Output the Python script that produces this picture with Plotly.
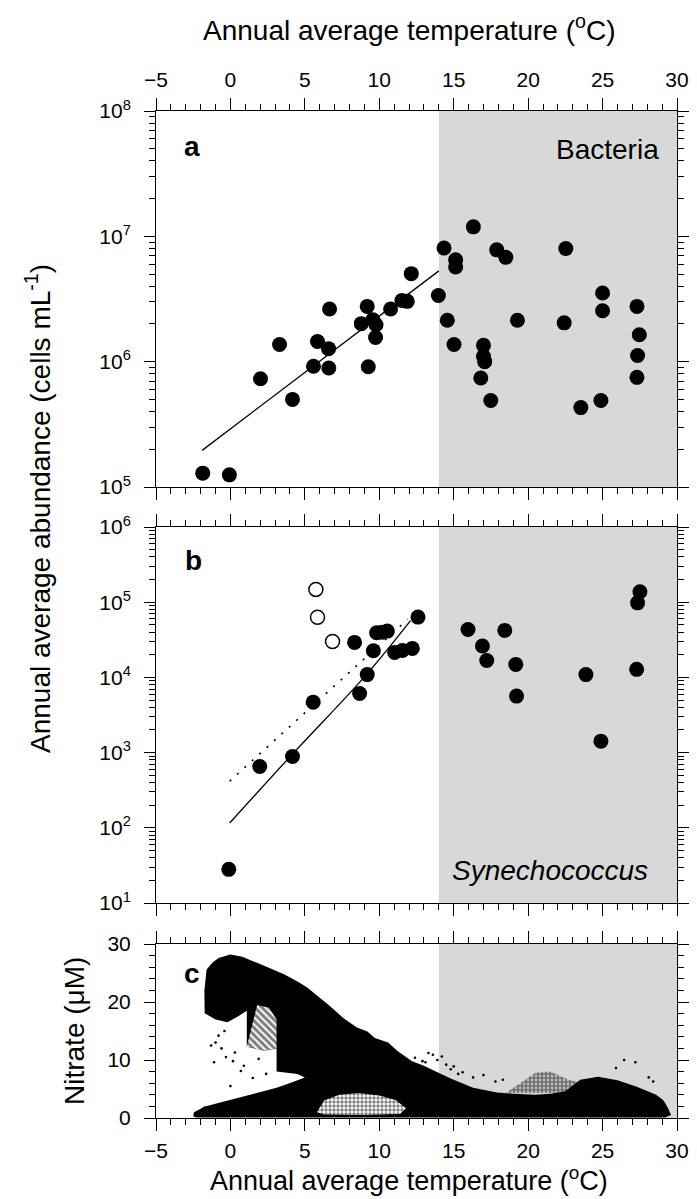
import plotly.graph_objects as go

# ---------------- data ----------------
# Panel a: Bacteria, annual average temperature (deg C) vs abundance (cells/mL)
bact_temp = [-1.86, -0.07, 2.02, 3.30, 4.17, 5.58, 5.85, 6.59, 6.61, 6.66,
             8.79, 9.19, 9.26, 9.57, 9.78, 9.75, 10.76, 11.52, 11.88, 12.15,
             13.97, 14.35, 14.57, 15.02, 15.13, 15.13,
             16.32, 17.89, 18.5, 17.0, 17.0, 17.08, 16.82, 17.49, 19.28,
             22.53, 22.42, 23.54, 24.89, 25.0, 25.0, 27.31, 27.47, 27.35, 27.31]
bact_abund = [1.29e5, 1.25e5, 7.3e5, 1.37e6, 5.0e5, 9.2e5, 1.45e6, 1.27e6, 8.9e5, 2.63e6,
              2.01e6, 2.76e6, 9.1e5, 2.16e6, 1.97e6, 1.56e6, 2.63e6, 3.08e6, 3.03e6, 5.04e6,
              3.37e6, 8.07e6, 2.14e6, 1.37e6, 6.5e6, 5.7e6,
              1.19e7, 7.8e6, 6.8e6, 1.35e6, 1.1e6, 1.0e6, 7.4e5, 4.9e5, 2.14e6,
              7.98e6, 2.04e6, 4.3e5, 4.9e5, 3.53e6, 2.55e6, 2.76e6, 1.64e6, 1.12e6, 7.5e5]
bact_fit_temp = [-1.9, 14.0]
bact_fit_abund = [1.96e5, 5.3e6]

# Panel b: Synechococcus
syn_temp = [-0.11, 1.97, 4.17, 5.56, 8.34, 8.68, 9.19, 9.6, 9.82, 10.2, 10.54,
            11.03, 11.55, 12.22, 12.6, 15.96, 16.93, 17.22, 18.43, 19.17, 19.22,
            23.88, 24.89, 27.51, 27.35, 27.29]
syn_abund = [28, 653, 888, 4.69e3, 2.92e4, 6.1e3, 1.09e4, 2.26e4, 3.93e4, 4.0e4, 4.13e4,
             2.15e4, 2.28e4, 2.43e4, 6.34e4, 4.34e4, 2.61e4, 1.68e4, 4.22e4, 1.49e4, 5.64e3,
             1.09e4, 1.42e3, 1.38e5, 9.8e4, 1.28e4]
syn_open_temp = [5.74, 5.85, 6.86]
syn_open_abund = [1.48e5, 6.3e4, 3.0e4]
syn_fit_temp = [-0.05, 4.26, 8.97, 12.1]
syn_fit_abund = [116, 1000, 1.0e4, 5.7e4]
syn_fit2_temp = [-0.05, 11.9]
syn_fit2_abund = [417, 5.9e4]

# Panel c: nitrate (uM) vs temperature - outline of the dense point cloud
nit_env_temp = [-2.5, -2.45, -2.0, -1.75, -1.72, -1.75, -1.6, -1.2, -0.8, 0.0, 0.8, 1.6,
                2.5, 3.6, 4.6, 5.2, 6.1, 6.6, 7.6, 8.5, 9.2, 9.7, 10.6, 11.2, 12.2, 13.0,
                13.8, 14.8, 16.3, 17.9, 19.0, 20.5, 21.5, 22.5, 23.5, 24.7, 26.0, 27.3,
                28.6, 29.1, 29.4, 29.6, 29.2, -2.3]
nit_env_no3 = [0.3, 1.0, 1.6, 2.0, 16.0, 22.0, 25.6, 26.8, 27.6, 28.2, 27.8, 27.0,
               26.0, 24.8, 23.4, 22.4, 20.5, 19.5, 17.2, 15.6, 14.9, 13.8, 13.0, 11.6, 9.8, 9.0,
               8.0, 6.8, 5.2, 4.4, 4.2, 4.0, 4.2, 4.6, 6.6, 7.1, 6.5, 5.4,
               4.0, 3.0, 1.7, 0.5, 0.1, 0.1]
nit_gap1_temp = [-1.9, -1.7, -0.5, 1.0, 2.0, 3.1, 4.2, 5.0, 4.5, 3.1, 3.1, 2.3, 1.1, 1.1,
                 0.5, -0.2, -1.0, -1.7, -1.9]
nit_gap1_no3 = [2.2, 2.0, 2.8, 3.8, 4.5, 5.2, 6.2, 7.0, 7.6, 8.0, 12.0, 11.6, 12.3, 18.5,
                17.5, 16.5, 17.0, 18.0, 18.0]
nit_hatch_temp = [1.1, 1.8, 2.6, 3.1, 3.1, 2.3, 1.1]
nit_hatch_no3 = [12.3, 19.5, 19.0, 17.0, 12.0, 11.6, 12.3]
nit_gap2_temp = [5.8, 6.3, 7.3, 8.6, 10.0, 11.1, 11.8, 11.4, 9.0, 6.3, 5.8]
nit_gap2_no3 = [1.0, 3.0, 4.0, 4.3, 3.9, 3.1, 1.7, 0.7, 0.5, 0.6, 1.0]
nit_arc_temp = [18.5, 19.5, 20.5, 21.5, 22.5, 23.3, 23.5, 18.5]
nit_arc_no3 = [4.3, 6.0, 7.8, 8.0, 6.8, 6.2, 4.3, 4.3]
nit_dots_temp = [26.45, 27.2, 25.9, 28.4, 28.1, 0.17, 0.7, 1.5, 2.4, -0.6, -1.0, 0.0, 3.5,
                 -0.3, 0.3, -0.8, -0.4, 0.9, 1.9, -1.3, -1.1,
                 12.4, 12.9, 13.3, 13.6, 13.9, 14.2, 14.5, 15.0, 15.6, 16.3, 17.0, 17.8, 18.3,
                 13.1, 14.8, 15.3]
nit_dots_no3 = [10.0, 9.6, 8.6, 6.3, 7.0, 9.8, 8.1, 6.9, 7.6, 12.0, 13.0, 5.5, 9.2,
                10.5, 11.3, 14.2, 15.0, 9.0, 10.2, 12.5, 9.6,
                10.4, 9.8, 11.2, 10.9, 10.0, 10.6, 9.2, 8.9, 7.9, 7.0, 7.4, 6.3, 6.6,
                9.6, 8.4, 7.6]

x_major = [-5, 0, 5, 10, 15, 20, 25, 30]
shade_range = [14, 30]

# ---------------- layout helpers ----------------
FONT = "Liberation Sans, Arial, Helvetica, sans-serif"
L, R, T, B = 148, 28, 103, 89
W_PLOT = 697 - L - R
H = 1199 - T - B  # 1007


def ydom(top_px, bot_px):
    return [(1199 - B - bot_px) / H, (1199 - B - top_px) / H]


dom_a = ydom(103, 479)
dom_b = ydom(519, 895)
dom_c = ydom(936, 1110)


def log_ticks(lo, hi):
    vals = [10 ** e for e in range(lo, hi + 1)]
    txt = ["10<sup>%d</sup>" % e for e in range(lo, hi + 1)]
    minor = [m * 10 ** e for e in range(lo, hi) for m in range(2, 10)]
    return vals, txt, minor


fig = go.Figure()

# panel a
fig.add_trace(go.Scatter(x=bact_fit_temp, y=bact_fit_abund, mode="lines",
                         line=dict(color="black", width=1.3), xaxis="x", yaxis="y",
                         showlegend=False))
fig.add_trace(go.Scatter(x=bact_temp, y=bact_abund, mode="markers",
                         marker=dict(color="black", size=15, line=dict(width=0)),
                         xaxis="x", yaxis="y", showlegend=False))

# panel b
fig.add_trace(go.Scatter(x=syn_fit2_temp, y=syn_fit2_abund, mode="lines",
                         line=dict(color="black", width=1.6, dash="2px,8px"),
                         xaxis="x2", yaxis="y2", showlegend=False))
fig.add_trace(go.Scatter(x=syn_fit_temp, y=syn_fit_abund, mode="lines",
                         line=dict(color="black", width=1.3, shape="spline"),
                         xaxis="x2", yaxis="y2", showlegend=False))
fig.add_trace(go.Scatter(x=syn_temp, y=syn_abund, mode="markers",
                         marker=dict(color="black", size=15, line=dict(width=0)),
                         xaxis="x2", yaxis="y2", showlegend=False))
fig.add_trace(go.Scatter(x=syn_open_temp, y=syn_open_abund, mode="markers",
                         marker=dict(color="white", size=14, line=dict(width=1.5, color="black")),
                         xaxis="x2", yaxis="y2", showlegend=False))


# panel c
def poly(xs, ys, **kw):
    fig.add_trace(go.Scatter(x=xs, y=ys, mode="lines", fill="toself",
                             line=dict(width=0, color="rgba(0,0,0,0)"),
                             xaxis="x3", yaxis="y3", showlegend=False, hoverinfo="skip", **kw))


poly(nit_env_temp, nit_env_no3, fillcolor="black")
poly(nit_gap1_temp, nit_gap1_no3, fillcolor="white")
poly(nit_hatch_temp, nit_hatch_no3, fillcolor="white",
     fillpattern=dict(shape="\\", fgcolor="black", bgcolor="white", size=5, solidity=0.6))
poly(nit_gap2_temp, nit_gap2_no3, fillcolor="white",
     fillpattern=dict(shape=".", fgcolor="black", bgcolor="white", size=4, solidity=0.55))
poly(nit_arc_temp, nit_arc_no3, fillcolor="rgba(0,0,0,0)",
     fillpattern=dict(shape=".", fgcolor="black", bgcolor="rgba(0,0,0,0)", size=4,
                      solidity=0.7))
fig.add_trace(go.Scatter(x=nit_dots_temp, y=nit_dots_no3, mode="markers",
                         marker=dict(color="black", size=2.6), xaxis="x3", yaxis="y3",
                         showlegend=False, hoverinfo="skip"))

# ---------------- axes ----------------
tick_font = dict(family=FONT, size=21, color="black")
xcommon = dict(range=[-5, 30], tickvals=x_major, ticks="outside", ticklen=12, tickwidth=1,
               tickcolor="black", showline=True, linecolor="black", linewidth=1,
               mirror="ticks", showgrid=False, zeroline=False, tickfont=tick_font,
               minor=dict(dtick=1, tick0=0, ticks="outside", ticklen=6, tickcolor="black",
                          showgrid=False))
ycommon = dict(ticks="outside", ticklen=11, tickwidth=1, tickcolor="black", showline=True,
               linecolor="black", linewidth=1, mirror="ticks", showgrid=False,
               zeroline=False, tickfont=tick_font, ticklabelstandoff=9)

va, ta, ma = log_ticks(5, 8)
vb, tb, mb = log_ticks(1, 6)

fig.update_layout(
    width=697, height=1199,
    margin=dict(l=L, r=R, t=T, b=B, pad=0),
    paper_bgcolor="white", plot_bgcolor="white",
    font=dict(family=FONT, color="black"),
    xaxis=dict(xcommon, anchor="y", side="top", ticklabelstandoff=3),
    xaxis2=dict(xcommon, anchor="y2", matches="x", showticklabels=False),
    xaxis3=dict(xcommon, anchor="y3", matches="x", ticklabelstandoff=2),
    yaxis=dict(ycommon, domain=dom_a, type="log", range=[5, 8], tickvals=va, ticktext=ta,
               minor=dict(tickvals=ma, ticks="outside", ticklen=6, tickcolor="black",
                          showgrid=False)),
    yaxis2=dict(ycommon, domain=dom_b, type="log", range=[1, 6], tickvals=vb, ticktext=tb,
                minor=dict(tickvals=mb, ticks="outside", ticklen=6, tickcolor="black",
                           showgrid=False)),
    yaxis3=dict(ycommon, domain=dom_c, range=[0, 30], tickvals=[0, 10, 20, 30],
                minor=dict(dtick=2, tick0=0, ticks="outside", ticklen=6, tickcolor="black",
                           showgrid=False)),
)

# shaded warm region in each panel
for xr, yr in (("x", "y"), ("x2", "y2"), ("x3", "y3")):
    fig.add_shape(type="rect", xref=xr, yref=yr + " domain", x0=shade_range[0],
                  x1=shade_range[1], y0=0, y1=1, fillcolor="#d8d8d8", line=dict(width=0),
                  layer="below")


def px_x(px):
    return (px - L) / W_PLOT


def px_y(py):
    return (1199 - B - py) / H


TITLE_T = "Annual average temperature (<sup>o</sup>C)"
fig.add_annotation(text=TITLE_T, xref="paper", yref="paper", x=px_x(401), y=px_y(20),
                   xanchor="center", yanchor="middle", showarrow=False,
                   font=dict(family=FONT, size=28, color="black"))
fig.add_annotation(text=TITLE_T, xref="paper", yref="paper", x=px_x(401), y=px_y(1171),
                   xanchor="center", yanchor="middle", showarrow=False,
                   font=dict(family=FONT, size=27, color="black"))

fig.add_annotation(text="Annual average abundance (cells mL<sup>-1</sup>)", xref="paper",
                   yref="paper", x=px_x(30), y=px_y(501), textangle=-90, showarrow=False,
                   xanchor="center", yanchor="middle",
                   font=dict(family=FONT, size=28, color="black"))
fig.add_annotation(text="Nitrate (\u03bcM)", xref="paper", yref="paper", x=px_x(66),
                   y=px_y(1023), textangle=-90, showarrow=False, xanchor="center",
                   yanchor="middle", font=dict(family=FONT, size=28, color="black"))

# panel labels
fig.add_annotation(text="<b>a</b>", xref="x", yref="y", x=-2.6, y=7.72, showarrow=False,
                   font=dict(family=FONT, size=28, color="black"))
fig.add_annotation(text="Bacteria", xref="x", yref="y", x=25.3, y=7.69, showarrow=False,
                   font=dict(family=FONT, size=28, color="black"))
fig.add_annotation(text="<b>b</b>", xref="x2", yref="y2", x=-2.5, y=5.55, showarrow=False,
                   font=dict(family=FONT, size=28, color="black"))
fig.add_annotation(text="<i>Synechococcus</i>", xref="x2", yref="y2", x=21.5, y=1.43,
                   showarrow=False, font=dict(family=FONT, size=28, color="black"))
fig.add_annotation(text="<b>c</b>", xref="x3", yref="y3", x=-2.6, y=25, showarrow=False,
                   font=dict(family=FONT, size=28, color="black"))

fig.write_html("out.html")
